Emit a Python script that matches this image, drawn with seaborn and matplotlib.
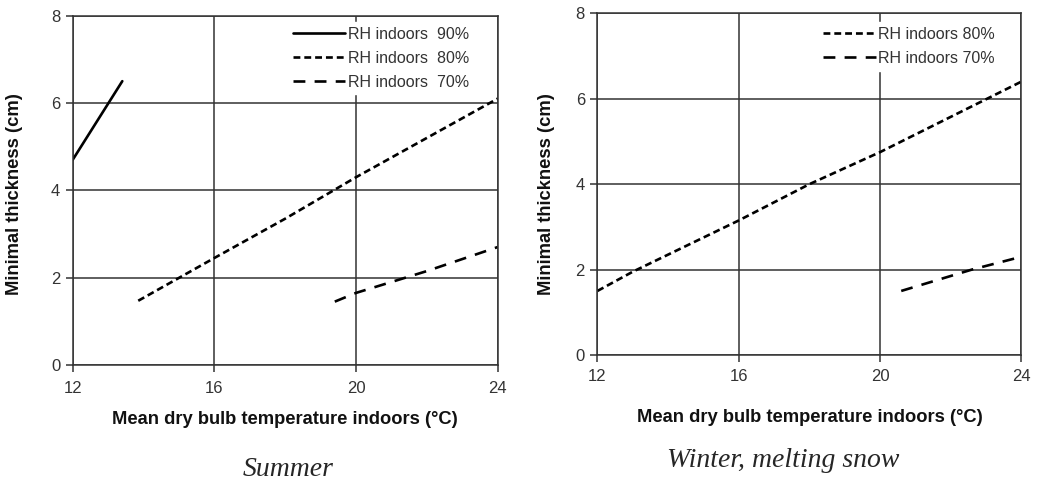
import matplotlib
matplotlib.use("Agg")
import matplotlib.pyplot as plt
import seaborn as sns
import pandas as pd

# ---- data ----
summer_90_x = [12.0, 13.4]
summer_90_y = [4.7, 6.5]
summer_80_x = [13.85, 16, 18, 20, 22, 24]
summer_80_y = [1.47, 2.45, 3.35, 4.3, 5.2, 6.1]
summer_70_x = [19.4, 20, 22, 24]
summer_70_y = [1.45, 1.65, 2.15, 2.7]

winter_80_x = [12, 13, 16, 18, 20, 24]
winter_80_y = [1.5, 1.95, 3.15, 4.0, 4.75, 6.4]
winter_70_x = [20.6, 22.6, 24]
winter_70_y = [1.5, 2.0, 2.3]

x_ticks = [12, 16, 20, 24]
y_ticks = [0, 2, 4, 6, 8]
x_label = "Mean dry bulb temperature indoors (°C)"
y_label = "Minimal thickness (cm)"

sns.set_style("white")
plt.rcParams['font.family'] = ['Liberation Sans', 'DejaVu Sans']

fig = plt.figure(figsize=(10.39, 4.84), dpi=100)
ax1 = fig.add_axes([0.070, 0.246, 0.409, 0.7216])
ax2 = fig.add_axes([0.575, 0.2665, 0.408, 0.706])

lw = 1.9
styles = {
    "90": dict(linestyle="-"),
    "80": dict(linestyle=(0, (2.6, 1.5))),
    "70": dict(linestyle=(0, (4.5, 3.5))),
}

def draw(ax, x, y, key, label):
    d = pd.DataFrame({"x": x, "y": y})
    sns.lineplot(data=d, x="x", y="y", ax=ax, color="black", lw=lw,
                 label=label, **styles[key])

draw(ax1, summer_90_x, summer_90_y, "90", "RH indoors  90%")
draw(ax1, summer_80_x, summer_80_y, "80", "RH indoors  80%")
draw(ax1, summer_70_x, summer_70_y, "70", "RH indoors  70%")

draw(ax2, winter_80_x, winter_80_y, "80", "RH indoors 80%")
draw(ax2, winter_70_x, winter_70_y, "70", "RH indoors 70%")

for ax, ylx, yly, xly, xpad in [(ax1, -0.117, 0.49, -0.133, 6.5),
                                (ax2, -0.100, 0.47, -0.158, 5.0)]:
    ax.set_xlim(12, 24)
    ax.set_ylim(0, 8)
    ax.set_xticks(x_ticks)
    ax.set_yticks(y_ticks)
    ax.grid(True, color="#333333", lw=1.1)
    ax.set_axisbelow(True)
    for s in ax.spines.values():
        s.set_color("#333333")
        s.set_linewidth(1.1)
    ax.tick_params(axis="both", which="major", direction="out", length=5,
                   width=1.1, color="#333333", labelsize=12,
                   labelcolor="#333333", pad=4, bottom=True, left=True)
    ax.tick_params(axis="x", pad=xpad)
    ax.set_xlabel(x_label, fontsize=13.2, fontweight="bold", color="#111111")
    ax.set_ylabel(y_label, fontsize=13.2, fontweight="bold", color="#111111")
    ax.xaxis.set_label_coords(0.5, xly)
    ax.yaxis.set_label_coords(ylx, yly)

leg_kw = dict(loc="upper right", fontsize=11.5, handlelength=3.3,
              handletextpad=0.15, labelspacing=0.55, frameon=True,
              framealpha=1, edgecolor="white", facecolor="white",
              borderpad=0.3, borderaxespad=0.3)
l1 = ax1.legend(bbox_to_anchor=(0.955, 0.995), **leg_kw)
l2 = ax2.legend(bbox_to_anchor=(0.96, 0.988), **leg_kw)
for l in (l1, l2):
    for t in l.get_texts():
        t.set_color("#333333")

fig.text(0.277, 0.016, "Summer", ha="center", va="baseline", fontsize=20,
         style="italic", family="Liberation Serif")
fig.text(0.754, 0.036, "Winter, melting snow", ha="center", va="baseline",
         fontsize=20, style="italic", family="Liberation Serif")

fig.savefig("out.png", dpi=100)
